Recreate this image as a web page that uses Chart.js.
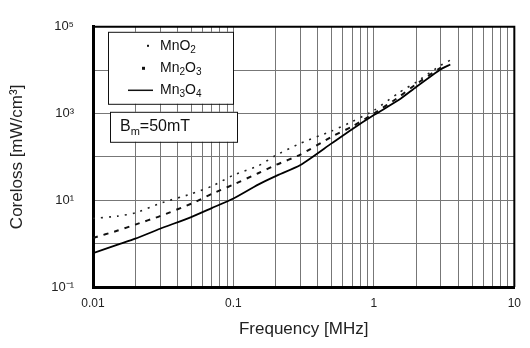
<!DOCTYPE html>
<html>
<head>
<meta charset="utf-8">
<script src="https://cdn.jsdelivr.net/npm/chart.js@4.4.1/dist/chart.umd.min.js"></script>
<style>
html, body { margin: 0; padding: 0; background: #fff; }
</style>
</head>
<body>
<canvas id="myChart" width="530" height="348"></canvas>
<script>
// frequency in MHz, coreloss in mW/cm3
var freq  = [0.01, 0.015, 0.02, 0.03, 0.05, 0.07, 0.1, 0.15, 0.2, 0.3, 0.5, 0.7, 1, 1.5, 2, 3, 3.5];
var mnO2  = [3.8, 4.3, 5.1, 8.5, 14, 21, 38, 62, 108, 206, 395, 650, 1180, 3000, 5300, 13000, 17000];
var mn2O3 = [1.35, 2.0, 2.75, 4.3, 8.3, 14, 23, 42, 65, 113, 292, 500, 1000, 2380, 4770, 11500, null];
var mn3O4 = [0.6, 0.95, 1.3, 2.2, 4.1, 6.6, 11, 23, 36, 65, 205, 435, 920, 2040, 4100, 10500, 13500];
var seriesNames = ['MnO_2', 'Mn_2O_3', 'Mn_3O_4'];

var xLabelValues = [0.01, 0.1, 1, 10];
var xLabelTexts  = ['0.01', '0.1', '1', '10'];
var yLabelValues = [0.1, 10, 1000, 100000];
var yLabelTexts  = ['10\u207B\u00B9', '10\u00B9', '10\u00B3', '10\u2075'];
var yGridValues  = [0.1, 1, 10, 100, 1000, 10000, 100000];
var conditionText = 'B_m=50mT';

var FONT = "'Liberation Sans', Arial, sans-serif";
Chart.defaults.font.family = FONT;

function xGridValues() {
    var out = [];
    for (var e = -2; e < 1; e++) {
        for (var i = 1; i < 10; i++) {
            out.push(Number((i * Math.pow(10, e)).toPrecision(3)));
        }
    }
    out.push(10);
    return out;
}

function findLabel(v, values, texts) {
    for (var i = 0; i < values.length; i++) {
        if (Math.abs(Math.log10(v) - Math.log10(values[i])) < 1e-6) return texts[i];
    }
    return '';
}

function toPoints(arr) {
    var pts = [];
    for (var i = 0; i < freq.length; i++) {
        if (arr[i] != null) pts.push({x: freq[i], y: arr[i]});
    }
    return pts;
}

// text with single-char subscripts written as _x
function drawSubText(ctx, text, x, y, size) {
    var parts = text.split(/(_.)/);
    ctx.textBaseline = 'middle';
    ctx.textAlign = 'left';
    for (var i = 0; i < parts.length; i++) {
        var p = parts[i];
        if (!p) continue;
        if (p.charAt(0) == '_') {
            ctx.font = Math.round(size * 0.68) + 'px ' + FONT;
            ctx.fillText(p.charAt(1), x, y + size * 0.3);
            x += ctx.measureText(p.charAt(1)).width;
        } else {
            ctx.font = size + 'px ' + FONT;
            ctx.fillText(p, x, y);
            x += ctx.measureText(p).width;
        }
    }
}

var boxPlugin = {
    id: 'boxPlugin',
    afterDraw: function (chart) {
        var ctx = chart.ctx;
        var a = chart.chartArea;
        ctx.save();
        // top / right frame
        ctx.strokeStyle = '#000';
        ctx.lineWidth = 2;
        ctx.beginPath();
        ctx.moveTo(a.left, a.top);
        ctx.lineTo(a.right, a.top);
        ctx.lineTo(a.right, a.bottom);
        ctx.stroke();

        // legend box
        var lx = a.left + 15, ly = a.top + 5;
        ctx.fillStyle = '#fff';
        ctx.fillRect(lx, ly, 125, 72);
        ctx.lineWidth = 1;
        ctx.strokeStyle = '#111';
        ctx.strokeRect(lx + 0.5, ly + 0.5, 125, 72);
        ctx.fillStyle = '#111';
        var rows = [ly + 14, ly + 36, ly + 58];
        // symbols
        ctx.fillRect(lx + 39, rows[0] - 1, 2, 2);
        ctx.fillRect(lx + 34, rows[1] - 1, 3, 3);
        ctx.lineWidth = 1.5;
        ctx.beginPath();
        ctx.moveTo(lx + 20, rows[2] + 0.5);
        ctx.lineTo(lx + 45, rows[2] + 0.5);
        ctx.stroke();
        for (var i = 0; i < seriesNames.length; i++) {
            drawSubText(ctx, seriesNames[i], lx + 52, rows[i], 14);
        }

        // condition box
        var bx = a.left + 17, by = a.top + 85;
        ctx.fillStyle = '#fff';
        ctx.fillRect(bx, by, 127, 30);
        ctx.lineWidth = 1;
        ctx.strokeRect(bx + 0.5, by + 0.5, 127, 30);
        ctx.fillStyle = '#111';
        drawSubText(ctx, conditionText, bx + 10, by + 15, 16);
        ctx.restore();
    }
};

var ctx = document.getElementById('myChart').getContext('2d');
var myChart = new Chart(ctx, {
    type: 'line',
    data: {
        datasets: [{
            label: 'MnO2',
            data: toPoints(mnO2),
            borderColor: '#222',
            borderWidth: 1.6,
            borderDash: [2, 6],
            pointRadius: 0,
            tension: 0.2,
            fill: false
        }, {
            label: 'Mn2O3',
            data: toPoints(mn2O3),
            borderColor: '#111',
            borderWidth: 2,
            borderDash: [5, 6],
            pointRadius: 0,
            tension: 0.2,
            fill: false
        }, {
            label: 'Mn3O4',
            data: toPoints(mn3O4),
            borderColor: '#000',
            borderWidth: 1.8,
            pointRadius: 0,
            tension: 0.2,
            fill: false
        }]
    },
    options: {
        responsive: false,
        animation: false,
        layout: {padding: {top: 10, right: 8, left: 0, bottom: 0}},
        plugins: {legend: {display: false}, tooltip: {enabled: false}},
        scales: {
            x: {
                type: 'logarithmic',
                min: 0.01,
                max: 10,
                afterBuildTicks: function (scale) {
                    scale.ticks = xGridValues().map(function (v) { return {value: v}; });
                },
                afterFit: function (scale) { scale.height = 61; },
                grid: {color: '#777', lineWidth: 1, drawTicks: false},
                border: {color: '#000', width: 3},
                ticks: {
                    autoSkip: false,
                    maxRotation: 0,
                    padding: 9,
                    color: '#222',
                    font: {size: 12},
                    callback: function (v) { return findLabel(v, xLabelValues, xLabelTexts); }
                },
                title: {
                    display: true,
                    text: 'Frequency [MHz]',
                    color: '#222',
                    font: {size: 17},
                    padding: {top: 0, bottom: 8}
                }
            },
            y: {
                type: 'logarithmic',
                min: 0.1,
                max: 100000,
                afterBuildTicks: function (scale) {
                    scale.ticks = yGridValues.map(function (v) { return {value: v}; });
                },
                afterFit: function (scale) { scale.width = 93; },
                grid: {color: '#777', lineWidth: 1, drawTicks: false},
                border: {color: '#000', width: 3},
                ticks: {
                    autoSkip: false,
                    padding: 19,
                    color: '#222',
                    font: {size: 13},
                    callback: function (v) { return findLabel(v, yLabelValues, yLabelTexts); }
                },
                title: {
                    display: true,
                    text: 'Coreloss [mW/cm\u00B3]',
                    color: '#222',
                    font: {size: 17},
                    padding: {top: 7, bottom: 0}
                }
            }
        }
    },
    plugins: [boxPlugin]
});
</script>
</body>
</html>
